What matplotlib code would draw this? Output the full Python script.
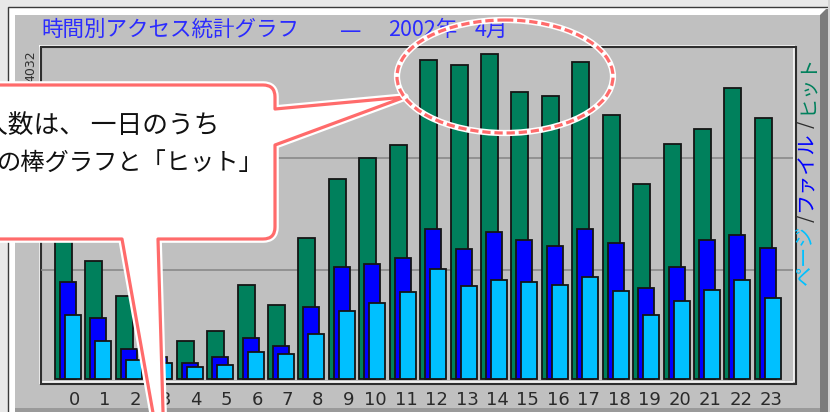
import matplotlib
matplotlib.use("Agg")
import numpy as np
import matplotlib.pyplot as plt
from matplotlib.patches import Rectangle, Ellipse, PathPatch, Polygon
from matplotlib.path import Path

# ---- data -------------------------------------------------------------
hours = [str(h) for h in range(24)]
hits = [1911, 1464, 1030, 360, 471, 595, 1166, 918, 1749, 2481, 2742, 2903,
        3958, 3895, 4032, 3561, 3511, 3933, 3275, 2419, 2915, 3102, 3610, 3238]
files = [1203, 757, 372, 273, 198, 273, 509, 409, 893, 1389, 1427, 1501,
         1861, 1613, 1824, 1724, 1650, 1861, 1687, 1129, 1389, 1724, 1786, 1625]
pages = [794, 471, 236, 198, 149, 174, 335, 310, 558, 844, 943, 1079,
         1365, 1154, 1228, 1203, 1166, 1265, 1092, 794, 968, 1104, 1228, 1005]
max_label = "4032"

title_main = "時間別アクセス統計グラフ"
title_dash = "—"
title_year = "2002年"
title_month = "4月"
callout_lines = ["人数は、 一日のうち", "の棒グラフと「ヒット」"]

GREEN = "#00805c"
BLUE = "#0000ff"
CYAN = "#00c0ff"
PANEL = "#c0c0c0"
RED = "#ff6b6b"
DARK = "#2e2e2e"
TITLE = "#2b2bff"

legend_parts = [("ページ", CYAN, 255), ("/", DARK, 218), ("ファイル", BLUE, 172),
                ("/", DARK, 124), ("ヒット", GREEN, 84)]

CJK = ["Noto Sans CJK JP", "DejaVu Sans"]
NARROW = ["Liberation Sans Narrow", "DejaVu Sans"]

W, H = 830, 412
fig = plt.figure(figsize=(W / 100, H / 100), dpi=100)

# ---- window frame and panel (pixel coordinates) -----------------------
bg = fig.add_axes([0, 0, 1, 1])
bg.set_xlim(0, W)
bg.set_ylim(H, 0)
bg.axis("off")
bg.set_zorder(0)

bg.add_patch(Rectangle((0, 0), W, H, fc="#e8e8e8", ec="none"))
bg.add_patch(Rectangle((7.5, 6.5), 840, 420, fc="white", ec="#3a3a3a", lw=1))
bg.add_patch(Rectangle((15, 15), 805, 393, fc=PANEL, ec="none"))
bg.add_patch(Polygon([(820, 15), (826, 9), (828, 9), (828, H), (820, H)],
                     closed=True, fc="#7c7c7c", ec="none"))
bg.add_patch(Rectangle((828, 0), 2, H, fc="#d4d4d4", ec="none"))
bg.add_patch(Rectangle((15, 408), 805, 4, fc="#9a9a9a", ec="none"))

# inset frame of the plotting area
for xs, ys in [([39, 795], [45.5, 45.5]), ([39.5, 39.5], [45, 384]),
               ([41, 793], [381.5, 381.5]), ([793.5, 793.5], [47, 381.5])]:
    bg.plot(xs, ys, color="white", lw=1.1, solid_capstyle="butt")
for xs, ys in [([40, 796], [47, 47]), ([41, 41], [47, 385]),
               ([40, 796], [384, 384]), ([795.5, 795.5], [46, 385])]:
    bg.plot(xs, ys, color=DARK, lw=1.5, solid_capstyle="butt")

# title
bg.text(41, 30, title_main, family=CJK, fontsize=15.5, color=TITLE,
        ha="left", va="center")
bg.text(351, 31, title_dash, family=["DejaVu Sans"], fontsize=15.5,
        color=TITLE, ha="center", va="center")
bg.text(388, 30, title_year, family=CJK, fontsize=15.5, color=TITLE,
        ha="left", va="center")
bg.text(475, 30, title_month, family=CJK, fontsize=15.5, color=TITLE,
        ha="left", va="center")

# maximum value label
bg.text(31, 66, max_label, rotation=90, fontsize=9, color="#303030",
        ha="center", va="center", family=["DejaVu Sans"])

# vertical legend on the right
for label, col, yc in legend_parts:
    bg.text(806, yc, label, rotation=90, family=CJK, fontsize=14.5,
            color=col, ha="center", va="center")

# ---- bar chart ---------------------------------------------------------
pitch = 30.43            # pixels per hour group
unit = 4032 / 325        # value per pixel
ax = fig.add_axes([41 / W, (H - 381) / H, (793 - 41) / W, (381 - 47) / H])
ax.set_zorder(1)
ax.set_facecolor("none")
ax.set_xlim((41 - 55) / pitch, (793 - 55) / pitch)
ax.set_ylim(-(381 - 379) * unit, (379 - 47) * unit)

idx = np.arange(len(hours))
for f in (1 / 3, 2 / 3):
    ax.plot([0, 1], [f, f], transform=ax.transAxes, color="#858585",
            lw=1.1, zorder=1)

edge = "#151515"
ax.bar(idx, hits, width=17 / pitch, align="edge", color=GREEN,
       edgecolor=edge, lw=1.3, zorder=2)
ax.bar(idx + 5 / pitch, files, width=16 / pitch, align="edge", color=BLUE,
       edgecolor=edge, lw=1.3, zorder=3)
ax.bar(idx + 10 / pitch, pages, width=16 / pitch, align="edge", color=CYAN,
       edgecolor=edge, lw=1.3, zorder=4)

ax.set_xticks(idx + np.where(idx < 10, 0.64, 0.54))
ax.set_xticklabels(hours, fontsize=13, color="#2a2a2a", family=NARROW)
ax.tick_params(axis="x", length=0, pad=7)
ax.set_yticks([])
for s in ax.spines.values():
    s.set_visible(False)

# ---- callout and highlight ellipse -------------------------------------
ov = fig.add_axes([0, 0, 1, 1])
ov.set_zorder(2)
ov.set_facecolor("none")
ov.set_xlim(0, W)
ov.set_ylim(H, 0)
ov.axis("off")

M, L, C, Z = Path.MOVETO, Path.LINETO, Path.CURVE3, Path.CLOSEPOLY
verts = [(-30, 85), (263, 85), (275, 85), (275, 97), (275, 109), (405, 97),
         (275, 145), (275, 227), (275, 239), (263, 239), (158, 239),
         (165, 480), (122, 239), (-30, 239), (-30, 85)]
codes = [M, L, C, C, L, L, L, L, C, C, L, L, L, L, Z]
bubble = Path(verts, codes)
ov.add_patch(PathPatch(bubble, fc="white", ec="white", lw=5.5,
                       joinstyle="round"))
ov.add_patch(PathPatch(bubble, fc="white", ec=RED, lw=2.3,
                       joinstyle="round"))

ov.text(-18, 126, callout_lines[0], family=CJK, fontsize=18.5, color="#111111",
        ha="left", va="center")
ov.text(-3, 163, callout_lines[1], family=CJK, fontsize=17.5, color="#111111",
        ha="left", va="center")

ov.add_patch(Ellipse((505, 76.5), 216, 113, fill=False, ec="white", lw=4.5))
ov.add_patch(Ellipse((505, 76.5), 216, 113, fill=False, ec=RED, lw=2.3,
                     linestyle=(0, (2.6, 1.2))))

fig.savefig("out.png", dpi=100)
